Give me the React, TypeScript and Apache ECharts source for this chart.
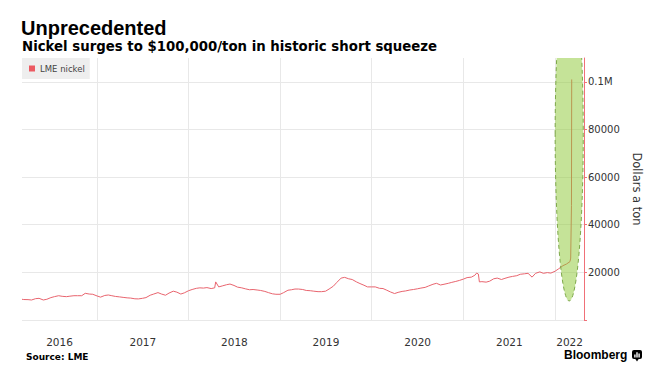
import React, { useEffect, useRef } from 'react';
import * as echarts from 'echarts';

// ---------- data ----------
const SERIES_NAME = 'LME nickel';
const AXIS_MIN = '2016-03-08';
const AXIS_MAX = '2022-04-26';
const years = [2016, 2017, 2018, 2019, 2020, 2021, 2022];
const yTicks = [0, 20000, 40000, 60000, 80000, 100000];
const Y_MAX = 110000;

// first points (before the semi-monthly run)
const startPoints: [string, number][] = [
  ['2016-03-08', 8700],
  ['2016-03-15', 8600],
];
// semi-monthly values (1st and 15th of each month)
const prices2016 = [8550, 8400, 8950, 9100, 8400, 8700, 9400, 9800, 10200, 9950, 9800, 10000, 10200, 10200, 10200, 11200, 10900, 10800]; // from Apr
const prices2017 = [10100, 9600, 10300, 10500, 10200, 9900, 9700, 9500, 9300, 9200, 8900, 8850, 9100, 9400, 10400, 10900, 11500, 10900, 10400, 11300, 12100, 11700, 10900, 11400];
const prices2018 = [12300, 12800, 13300, 13500, 13400, 13600, 13200, 13500, 13900, 14300, 14800, 15100, 14500, 13800, 13500, 13100, 12700, 12800, 12600, 12400, 12000, 11500, 11000, 10800];
const prices2019 = [10800, 11500, 12500, 12700, 13000, 13000, 12800, 12400, 12300, 12100, 11900, 11900, 12100, 13000, 14200, 15800, 17600, 17900, 17300, 17000, 16000, 15300, 14600, 13900];
const prices2020 = [13900, 13900, 13300, 13200, 12500, 11800, 11100, 11600, 12000, 12200, 12600, 12800, 13100, 13400, 13700, 14300, 15000, 15400, 14700, 15000, 15400, 15800, 16200, 16600];
const prices2021 = [17200, 17800, 18000, 18800, 19300, 16100, 15900, 16300, 17300, 17600, 17000, 17500, 18000, 18300, 18600, 19200, 19400, 19600, 18000, 19600, 20200, 19600, 19900, 19700];
const prices2022 = [20500, 21500, 22800, 23500, 24500]; // Jan 1 .. Mar 1
// individual days that matter
const eventPoints: [string, number][] = [
  ['2018-04-19', 16000],
  ['2021-02-22', 19700],
  ['2021-03-05', 16000],
  ['2022-03-04', 26000],
  ['2022-03-07', 48000],
  ['2022-03-08', 101000],
];
// highlighted squeeze zone
const highlightCenterDate = '2022-02-26';
const highlightHalfDays = 56;
const highlightCenterValue = 78000;
const highlightHalfValue = 70000;

// ---------- helpers ----------
const pad = (n: number) => (n < 10 ? '0' + n : '' + n);
function semiMonthly(year: number, startMonth: number, values: number[]): [string, number][] {
  return values.map((v, i) => {
    const m = startMonth + Math.floor(i / 2);
    const d = i % 2 === 0 ? '01' : '15';
    return [`${year}-${pad(m)}-${d}`, v] as [string, number];
  });
}
const DAY = 24 * 3600 * 1000;
const ts = (s: string) => {
  const [y, m, d] = s.split('-').map(Number);
  return new Date(y, m - 1, d).getTime();
};

const FONT = 'Verdana, "DejaVu Sans", sans-serif';
const HEAD_FONT = '"Liberation Sans", Arial, sans-serif';
const LINE_COLOR = '#e8646e';
const AXIS_RED = '#f07078';
const GRID = '#e8e8e8';

export default function App() {
  const ref = useRef<HTMLDivElement>(null);

  useEffect(() => {
    document.body.style.margin = '0';
    if (!ref.current) return;
    const chart = echarts.init(ref.current, undefined, { renderer: 'svg' });

    const points: [number, number][] = [
      ...startPoints,
      ...semiMonthly(2016, 4, prices2016),
      ...semiMonthly(2017, 1, prices2017),
      ...semiMonthly(2018, 1, prices2018),
      ...semiMonthly(2019, 1, prices2019),
      ...semiMonthly(2020, 1, prices2020),
      ...semiMonthly(2021, 1, prices2021),
      ...semiMonthly(2022, 1, prices2022),
      ...eventPoints,
    ]
      .sort((a, b) => (a[0] < b[0] ? -1 : a[0] > b[0] ? 1 : 0))
      .map((p) => [ts(p[0]), p[1]] as [number, number]);

    const minTs = ts(AXIS_MIN);
    const maxTs = ts(AXIS_MAX);
    const yearMids = years.map((y) => {
      const s = Math.max(minTs, new Date(y, 0, 1).getTime());
      const e = Math.min(maxTs, new Date(y + 1, 0, 1).getTime());
      return (s + e) / 2;
    });
    const yearStarts = years.slice(1).map((y) => new Date(y, 0, 1).getTime());

    chart.setOption({
      animation: false,
      backgroundColor: '#fff',
      title: [
        {
          text: 'Unprecedented',
          left: 21,
          top: 18,
          padding: 0,
          textStyle: { fontFamily: HEAD_FONT, fontWeight: 'bold', fontSize: 20, color: '#000' },
        },
        {
          text: 'Nickel surges to $100,000/ton in historic short squeeze',
          left: 22,
          top: 40,
          padding: 0,
          textStyle: { fontFamily: '"DejaVu Sans", Verdana, sans-serif', fontWeight: 'bold', fontSize: 13.3, color: '#000' },
        },
        {
          text: 'Source: LME',
          left: 26,
          top: 352,
          padding: 0,
          textStyle: { fontFamily: FONT, fontWeight: 'bold', fontSize: 9, color: '#000' },
        },
      ],
      legend: {
        show: true,
        data: [SERIES_NAME],
        left: 22,
        top: 58,
        backgroundColor: '#eeeeee',
        padding: [6, 5, 6, 7],
        itemWidth: 6,
        itemHeight: 6,
        icon: 'rect',
        selectedMode: false,
        textStyle: { fontFamily: FONT, fontSize: 8.5, color: '#444' },
      },
      grid: { left: 22, right: 87, top: 58, bottom: 72, containLabel: false },
      xAxis: {
        type: 'value',
        min: minTs,
        max: maxTs,
        axisLine: { show: false },
        axisTick: { show: false },
        splitLine: { show: false },
        axisLabel: {
          customValues: yearMids,
          formatter: (v: number) => String(new Date(v).getFullYear()),
          margin: 16,
          color: '#333',
          fontFamily: FONT,
          fontSize: 10.5,
          hideOverlap: false,
        },
      },
      yAxis: {
        type: 'value',
        position: 'right',
        min: 0,
        max: Y_MAX,
        interval: 20000,
        axisLine: { show: true, lineStyle: { color: AXIS_RED, width: 1 } },
        axisTick: { show: true, inside: false, length: 3, lineStyle: { color: AXIS_RED }, customValues: yTicks },
        axisLabel: {
          customValues: yTicks.slice(1),
          margin: 4,
          color: '#333',
          fontFamily: FONT,
          fontSize: 10,
          formatter: (v: number) => (v >= 100000 ? '0.1M' : String(v)),
        },
        splitLine: {
          show: true,
          lineStyle: { color: [GRID, GRID, GRID, GRID, GRID, GRID, 'rgba(0,0,0,0)'], width: 1 },
        },
        name: 'Dollars a ton',
        nameLocation: 'middle',
        nameGap: 46,
        nameRotate: -90,
        nameTextStyle: { fontFamily: FONT, fontSize: 11.5, color: '#333' },
      },
      series: [
        {
          name: SERIES_NAME,
          type: 'line',
          data: points,
          showSymbol: false,
          symbol: 'none',
          lineStyle: { color: LINE_COLOR, width: 1 },
          itemStyle: { color: '#ec5a62' },
          emphasis: { disabled: true },
          silent: true,
          z: 2,
          markLine: {
            silent: true,
            symbol: ['none', 'none'],
            label: { show: false },
            lineStyle: { color: GRID, type: 'solid', width: 1 },
            emphasis: { disabled: true },
            data: yearStarts.map((t) => ({ xAxis: t })),
            z: 1,
          },
        },
        {
          name: 'squeeze',
          type: 'custom',
          silent: true,
          clip: true,
          z: 5,
          data: [[ts(highlightCenterDate), highlightCenterValue]],
          encode: { x: 0, y: 1 },
          renderItem: (params: any, api: any) => {
            const cx = api.value(0);
            const cv = api.value(1);
            const c = api.coord([cx, cv]);
            const l = api.coord([cx - highlightHalfDays * DAY, cv]);
            const t = api.coord([cx, cv + highlightHalfValue]);
            return {
              type: 'ellipse',
              shape: { cx: c[0], cy: c[1], rx: c[0] - l[0], ry: c[1] - t[1] },
              style: {
                fill: 'rgba(140,200,50,0.5)',
                stroke: '#7ea94a',
                lineWidth: 1,
                lineDash: [4, 3],
              },
            };
          },
        },
      ],
      graphic: [
        {
          type: 'text',
          left: 564,
          top: 349,
          style: { text: 'Bloomberg', font: `bold 12px ${HEAD_FONT}`, fill: '#000' },
        },
        {
          type: 'group',
          left: 632,
          top: 350,
          children: [
            { type: 'rect', shape: { x: 0, y: 0, width: 10, height: 9, r: 2 }, style: { fill: '#000' } },
            { type: 'polygon', shape: { points: [[3, 8.5], [5, 11.5], [7, 8.5]] }, style: { fill: '#000' } },
            { type: 'rect', shape: { x: 2.2, y: 4.5, width: 1.4, height: 3 }, style: { fill: '#fff' } },
            { type: 'rect', shape: { x: 4.3, y: 2.2, width: 1.4, height: 5.3 }, style: { fill: '#fff' } },
            { type: 'rect', shape: { x: 6.4, y: 3.5, width: 1.4, height: 4 }, style: { fill: '#fff' } },
          ],
        },
      ],
    });

    return () => chart.dispose();
  }, []);

  return <div ref={ref} style={{ width: 671, height: 392 }} />;
}
